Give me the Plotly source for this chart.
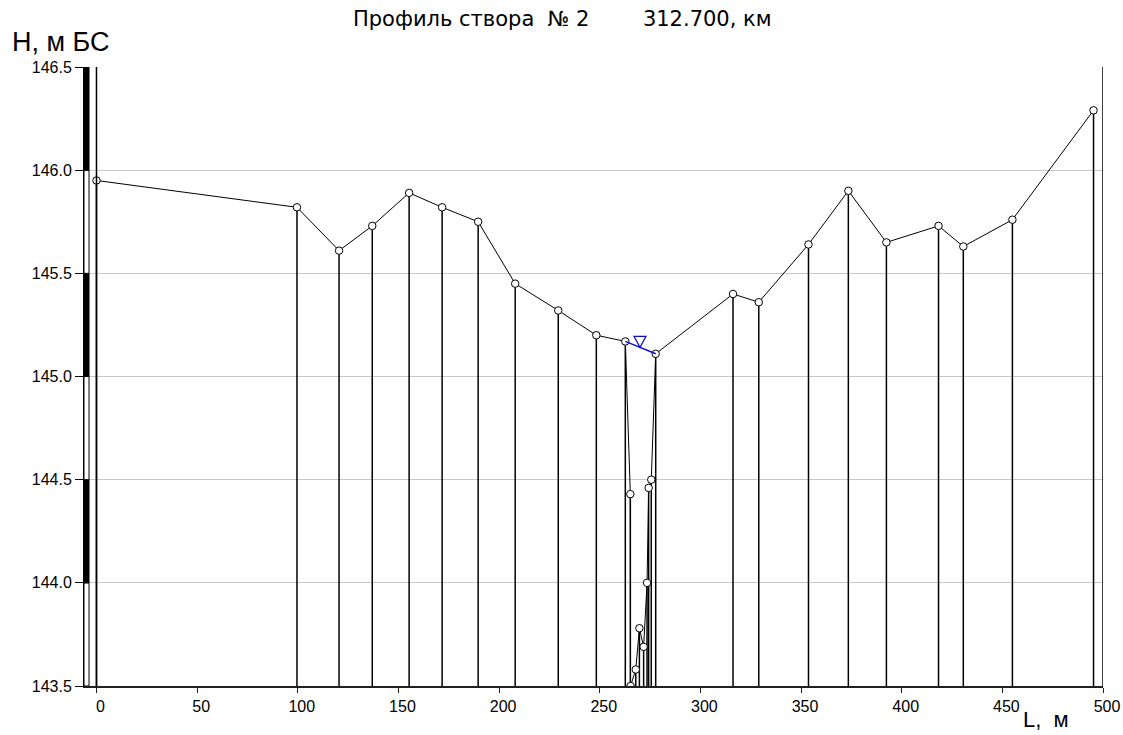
import numpy as np
import plotly.graph_objects as go

# Cross-section survey points: distance along the section (m) and elevation (m, Baltic system)
dist_m = [0.0, 99.6, 120.5, 137.0, 155.3, 171.7, 189.6, 208.0, 229.4, 248.3,
          262.7, 265.2, 265.3, 267.9, 269.7, 271.8, 273.5, 274.3, 275.6, 277.8,
          316.2, 329.0, 353.7, 373.5, 392.4, 418.3, 430.6, 455.0, 495.3]
elev_m = [145.95, 145.82, 145.61, 145.73, 145.89, 145.82, 145.75, 145.45, 145.32, 145.20,
          145.17, 144.43, 143.50, 143.58, 143.78, 143.69, 144.00, 144.46, 144.50, 145.11,
          145.40, 145.36, 145.64, 145.90, 145.65, 145.73, 145.63, 145.76, 146.29]

# Water surface across the channel (edge to edge)
water_dist = [262.7, 277.8]
water_elev = [145.17, 145.11]
water_mark_at = 270.0

# Axis settings
y_min, y_max, y_step = 143.5, 146.5, 0.5
x_min, x_max, x_step = -6.2, 500.0, 50
ruler_x = [-6.2, -3.7]

NB = "\u00a0"
title_text = f"Профиль створа{NB*2}№{NB}2{NB*8}312.700, км"
y_title = "Н, м БС"
x_title = f"L,{NB}{NB}м"

FONT = "Liberation Sans, Arial, sans-serif"
TITLE_FONT = "DejaVu Sans, sans-serif"

fig = go.Figure()

# vertical drop lines from each survey point down to the base of the chart
drop_x, drop_y = [], []
for L, H in zip(dist_m, elev_m):
    drop_x += [L, L, None]
    drop_y += [H, y_min, None]
fig.add_trace(go.Scatter(x=drop_x, y=drop_y, mode="lines",
                         line=dict(color="black", width=1.5), hoverinfo="skip",
                         showlegend=False))

# ground profile
fig.add_trace(go.Scatter(x=dist_m, y=elev_m, mode="lines+markers",
                         line=dict(color="black", width=1),
                         marker=dict(symbol="circle", size=7.5, color="white",
                                     line=dict(color="black", width=1)),
                         showlegend=False))

# water surface
fig.add_trace(go.Scatter(x=water_dist, y=water_elev, mode="lines",
                         line=dict(color="#1010c8", width=1.5), showlegend=False))

shapes = []
# elevation ruler on the left: alternating black / white half-metre blocks
levels = np.arange(y_min, y_max + 1e-9, y_step)
for i in range(len(levels) - 1):
    lo, hi = levels[i], levels[i + 1]
    filled = (len(levels) - 2 - i) % 2 == 0
    shapes.append(dict(type="rect", xref="x", yref="y",
                       x0=ruler_x[0], x1=ruler_x[1], y0=lo, y1=hi,
                       fillcolor="black" if filled else "white",
                       line=dict(color="black", width=1), layer="above"))

# section boundary lines at both ends
for xb in (0.0, x_max):
    shapes.append(dict(type="line", xref="x", yref="y", x0=xb, x1=xb,
                       y0=y_min, y1=y_max, line=dict(color="black", width=1.5)))

# water level marker (inverted triangle resting on the surface)
wl = float(np.interp(water_mark_at, water_dist, water_elev))
shapes.append(dict(type="path", xref="x", yref="y",
                   xsizemode="pixel", ysizemode="pixel",
                   xanchor=water_mark_at, yanchor=wl,
                   path="M-6,11 L6,11 L0,0 Z",
                   line=dict(color="#1010c8", width=1.2),
                   fillcolor="rgba(0,0,0,0)"))

fig.update_layout(
    width=1123, height=735,
    margin=dict(l=84, r=20, t=67, b=49, autoexpand=False),
    paper_bgcolor="white", plot_bgcolor="white",
    font=dict(family=FONT, color="black", size=16),
    shapes=shapes,
    showlegend=False,
    xaxis=dict(range=[x_min, x_max], tickmode="linear", tick0=0, dtick=x_step,
               automargin=False, ticklabelshift=4,
               showgrid=False, zeroline=False,
               showline=True, linecolor="#202020", linewidth=2,
               ticks="outside", ticklen=5, tickcolor="#202020", tickwidth=1,
               tickfont=dict(size=16, family=FONT)),
    yaxis=dict(range=[y_min, y_max], tickmode="linear", tick0=y_min, dtick=y_step,
               tickformat=".1f", automargin=False,
               showgrid=True, gridcolor="#c8c8c8", gridwidth=1,
               zeroline=False,
               showline=True, linecolor="black", linewidth=1,
               ticks="outside", ticklen=8, tickcolor="black", tickwidth=1,
               tickfont=dict(size=16, family=FONT)),
    annotations=[
        dict(text=title_text, xref="paper", yref="paper", x=0.47, y=1.0,
             yshift=48, xanchor="center", yanchor="middle", showarrow=False,
             font=dict(size=21, family=TITLE_FONT)),
        dict(text=y_title, xref="paper", yref="paper", x=0, y=1.0,
             xshift=-74, yshift=25, xanchor="left", yanchor="middle",
             showarrow=False, font=dict(size=27, family=FONT)),
        dict(text=x_title, xref="paper", yref="paper", x=1.0, y=0,
             xshift=-82, yshift=-48, xanchor="left", yanchor="bottom",
             showarrow=False, font=dict(size=22, family=FONT)),
    ],
)

fig.write_html("out.html")
